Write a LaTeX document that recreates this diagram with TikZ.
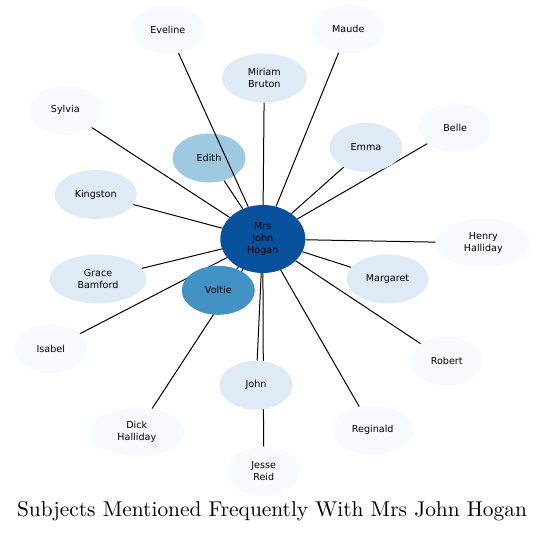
\documentclass[tikz,border=0pt]{standalone}
\usepackage{fontspec}
\newfontfamily\namefont{DejaVu Sans}
\newfontfamily\titlefont{lmroman10-regular.otf}
\usepackage{xcolor}
\usetikzlibrary{shapes.geometric,backgrounds}

\definecolor{shade0}{HTML}{F7FBFF}
\definecolor{shade1}{HTML}{DEEBF7}
\definecolor{shade2}{HTML}{9ECAE1}
\definecolor{shade3}{HTML}{4292C6}
\definecolor{shade4}{HTML}{08519C}

\begin{document}
\begin{tikzpicture}[x=1pt,y=-1pt,
    person/.style={ellipse,inner sep=0pt,minimum width=73pt,minimum height=49pt,align=center,font=\namefont\fontsize{9.6}{11.7}\selectfont},
    link/.style={black,line width=1pt}]
  \useasboundingbox (0,0) rectangle (545,532);
  % hub and the people around it
  \node[person,fill=shade4,minimum width=85pt,minimum height=68pt] (hogan) at (262.8,239) {Mrs\\John\\Hogan};
  \node[person,fill=shade0] (eveline) at (167.8,29.5) {Eveline};
  \node[person,fill=shade0] (maude) at (348.3,28.8) {Maude};
  \node[person,fill=shade1,minimum width=85pt] (miriam) at (264.3,78) {Miriam\\Bruton};
  \node[person,fill=shade0] (sylvia) at (65.3,110.3) {Sylvia};
  \node[person,fill=shade0] (belle) at (455.2,127.5) {Belle};
  \node[person,fill=shade1] (emma) at (366,147.3) {Emma};
  \node[person,fill=shade2] (edith) at (209,158) {Edith};
  \node[person,fill=shade1,minimum width=82pt] (kingston) at (95.7,194.5) {Kingston};
  \node[person,fill=shade0,minimum width=95pt] (henry) at (483.3,243) {Henry\\Halliday};
  \node[person,fill=shade1,minimum width=97pt] (grace) at (98,279) {Grace\\Bamford};
  \node[person,fill=shade1,minimum width=82pt] (margaret) at (387.5,279) {Margaret};
  \node[person,fill=shade3] (voltie) at (218.3,290.3) {Voltie};
  \node[person,fill=shade0] (isabel) at (50.8,348.8) {Isabel};
  \node[person,fill=shade0] (robert) at (446.7,361) {Robert};
  \node[person,fill=shade1] (john) at (256,385.2) {John};
  \node[person,fill=shade0,minimum width=81pt] (reginald) at (372.7,430) {Reginald};
  \node[person,fill=shade0,minimum width=95pt] (dick) at (136.8,432) {Dick\\Halliday};
  \node[person,fill=shade0] (jesse) at (263.7,471.2) {Jesse\\Reid};
  \node[anchor=base,font=\titlefont\fontsize{21.4}{25}\selectfont] (title) at (272,516.5) {Subjects Mentioned Frequently With Mrs John Hogan};
  % this one runs over Edith
  \draw[link] (hogan) -- (eveline);
  % the rest go under the ellipses
  \begin{scope}[on background layer]
    \draw[link] (hogan) -- (maude);
    \draw[link] (hogan) -- (miriam);
    \draw[link] (hogan) -- (sylvia);
    \draw[link] (hogan) -- (belle);
    \draw[link] (hogan) -- (emma);
    \draw[link] (hogan) -- (edith);
    \draw[link] (hogan) -- (kingston);
    \draw[link] (hogan) -- (henry);
    \draw[link] (hogan) -- (grace);
    \draw[link] (hogan) -- (margaret);
    \draw[link] (hogan) -- (voltie);
    \draw[link] (hogan) -- (isabel);
    \draw[link] (hogan) -- (robert);
    \draw[link] (hogan) -- (john);
    \draw[link] (hogan) -- (reginald);
    \draw[link] (hogan) -- (dick);
    \draw[link] (hogan) -- (jesse);
  \end{scope}
\end{tikzpicture}
\end{document}
